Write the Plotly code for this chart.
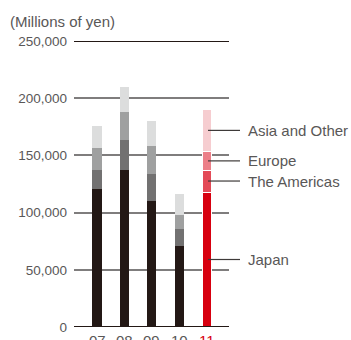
import plotly.graph_objects as go

years = ["07", "08", "09", "10", "11"]
japan = [120500, 137200, 110100, 70800, 118000]
americas = [16700, 26300, 23600, 14900, 19200]
europe = [19300, 24500, 24500, 12200, 16000]
asia = [19200, 21600, 21900, 18400, 37300]
series_names = ["Japan", "The Americas", "Europe", "Asia and Other"]
y_ticks = [0, 50000, 100000, 150000, 200000, 250000]
y_ticktext = ["0", "50,000", "100,000", "150,000", "200,000", "250,000"]

gray_cols = ["#231815", "#727171", "#9fa0a0", "#dcdddd"]
red_cols = ["#d7000f", "#e34a57", "#ec7f88", "#f6cdd0"]

TXT = "#595757"
FONT = "Liberation Sans, Arial, sans-serif"

fig = go.Figure()
series = [japan, americas, europe, asia]
xs = list(range(len(years)))
for i, (name, vals) in enumerate(zip(series_names, series)):
    cols = [gray_cols[i]] * (len(years) - 1) + [red_cols[i]]
    lw = [0] * (len(years) - 1) + [1]
    fig.add_trace(go.Bar(
        x=xs, y=vals, name=name, width=0.33,
        marker=dict(color=cols, line=dict(color="white", width=lw)),
        showlegend=False, hoverinfo="skip",
    ))

fig.update_layout(
    barmode="stack",
    width=351, height=340,
    margin=dict(l=74, r=122, t=41, b=13, autoexpand=False),
    paper_bgcolor="white", plot_bgcolor="white",
    font=dict(family=FONT, color=TXT),
    xaxis=dict(range=[-0.84, 4.82], showticklabels=False, showgrid=False,
               zeroline=False, showline=False, ticks="", automargin=False),
    yaxis=dict(range=[0, 250000], tickvals=y_ticks, ticktext=y_ticktext,
               showgrid=True, gridcolor="#7f7d7d", gridwidth=1.5,
               zeroline=False, showline=False, ticks="", automargin=False,
               ticklabelstandoff=6,
               tickfont=dict(size=13.5, color=TXT)),
)

# top and bottom dark lines
for yv in (0, 250000):
    fig.add_shape(type="line", xref="paper", yref="y", x0=0, x1=1, y0=yv, y1=yv,
                  line=dict(color="#231815", width=2), layer="above")

# axis title
fig.add_annotation(text="(Millions of yen)", xref="paper", yref="paper",
                   x=-74/155, y=1, xanchor="left", yanchor="bottom", yshift=9, xshift=8,
                   showarrow=False, font=dict(size=15, color=TXT))

# x labels
for i, yr in enumerate(years):
    fig.add_annotation(text=yr, x=i, xref="x", yref="paper", y=0,
                       yanchor="top", yshift=-3, showarrow=False,
                       font=dict(size=15, color="#d7000f" if i == len(years) - 1 else TXT))

# leader lines & labels for the last bar
last = len(years) - 1
base = 0
for i, (name, vals) in enumerate(zip(series_names, series)):
    mid = base + vals[last] / 2
    base += vals[last]
    fig.add_shape(type="line", xref="paper", yref="y",
                  x0=(208 - 74) / 155, x1=(240 - 74) / 155, y0=mid, y1=mid,
                  line=dict(color="#3e3a39", width=1.2), layer="above")
    fig.add_annotation(text=name, xref="paper", yref="y", x=(246 - 74) / 155, y=mid,
                       xanchor="left", yanchor="middle", showarrow=False,
                       font=dict(size=15, color=TXT))

fig.write_html("out.html")
